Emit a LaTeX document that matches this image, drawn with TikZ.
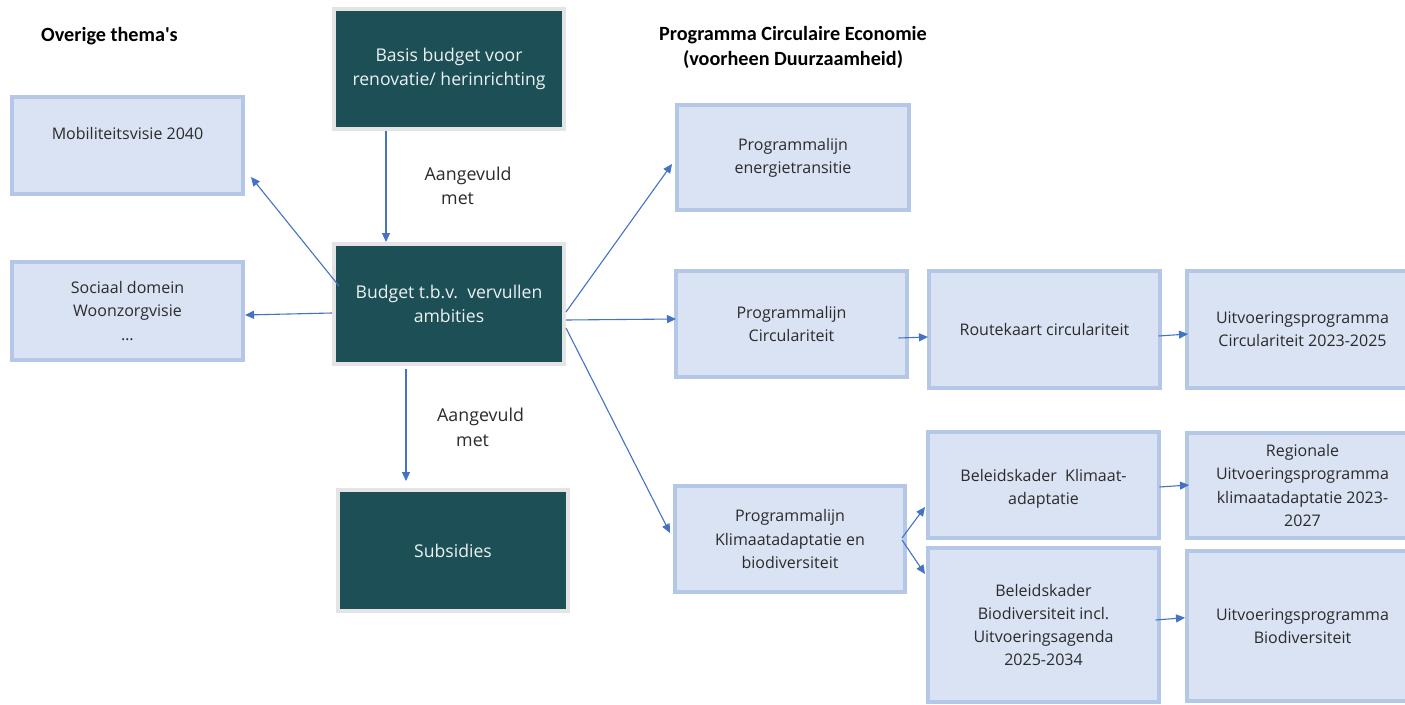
\documentclass[tikz,border=0pt]{standalone}
\usepackage{fontspec}
\setmainfont{Open Sans}
\newfontfamily\hdrfont{Carlito}
\usetikzlibrary{arrows.meta}
\definecolor{lfill}{HTML}{DAE3F3}
\definecolor{lline}{HTML}{B4C7E7}
\definecolor{dfill}{HTML}{1C5056}
\definecolor{dline}{HTML}{E4E4E4}
\definecolor{arr}{HTML}{4472C4}
\definecolor{txt}{HTML}{2B2B2B}
\definecolor{dtxt}{HTML}{EEF1F1}
\begin{document}
\begin{tikzpicture}[x=1pt,y=-1pt,
  lightbox/.style={draw=lline, fill=lfill, line width=4pt, inner sep=0pt, align=center, text=txt, font=\fontsize{16}{23.3}\selectfont},
  darkbox/.style={draw=dline, fill=dfill, line width=4pt, inner sep=0pt, align=center, text=dtxt, font=\fontsize{17.6}{24}\selectfont},
  conn/.style={draw=arr, line width=1.1pt, -{Triangle[length=9pt,width=8pt]}},
  lbl/.style={align=left, text=txt, font=\fontsize{17.8}{24.3}\selectfont, inner sep=0pt},
  hdr/.style={font=\hdrfont\bfseries\fontsize{20.2}{25}\selectfont, align=center, inner sep=0pt, text=black},
  plain/.style={inner sep=0pt, align=center, text=txt, font=\fontsize{16}{23.3}\selectfont}
]
\clip (0,0) rectangle (1405,704);
\fill[white] (0,0) rectangle (1405,704);

% headers
\node[hdr, anchor=base west] (h1) at (41,41) {Overige thema's};
\node[hdr, anchor=north] (h2) at (793,26) {Programma Circulaire Economie\\(voorheen Duurzaamheid)};

% left column
\node[lightbox, minimum width=231pt, minimum height=97pt] (mob) at (127.5,145.5) {};
\node[plain] (mobtxt) at ([yshift=12.5pt]mob.center) {Mobiliteitsvisie 2040};
\node[lightbox, minimum width=231pt, minimum height=98pt] (soc) at (127.5,311) {Sociaal domein\\Woonzorgvisie\\…};

% center column
\node[darkbox, minimum width=230pt, minimum height=120pt] (basis) at (449,69) {Basis budget voor\\renovatie/ herinrichting};
\node[darkbox, minimum width=230pt, minimum height=120pt] (budget) at (449,304) {Budget t.b.v.\ \ vervullen\\ambities};
\node[darkbox, minimum width=230pt, minimum height=121pt] (subs) at (453,550.5) {Subsidies};

% programme column
\node[lightbox, minimum width=232pt, minimum height=105pt] (ener) at (793,157.5) {Programmalijn\\energietransitie};
\node[lightbox, minimum width=231pt, minimum height=106pt] (circ) at (791.5,324) {Programmalijn\\Circulariteit};
\node[lightbox, minimum width=230pt, minimum height=106pt] (klim) at (790,539) {Programmalijn\\Klimaatadaptatie en\\biodiversiteit};

% third column
\node[lightbox, minimum width=231pt, minimum height=117pt] (route) at (1044.5,329.5) {Routekaart circulariteit};
\node[lightbox, minimum width=231pt, minimum height=106pt] (bk) at (1043.5,485) {};
\node[plain] (bktxt) at ([yshift=-3.5pt]bk.center) {Beleidskader\ \ Klimaat-\\adaptatie};
\node[lightbox, minimum width=231pt, minimum height=154pt] (bb) at (1043.5,625) {Beleidskader\\Biodiversiteit incl.\\Uitvoeringsagenda\\2025-2034};

% fourth column
\node[lightbox, minimum width=231pt, minimum height=117pt] (uc) at (1302.5,329.5) {Uitvoeringsprogramma\\Circulariteit 2023-2025};
\node[lightbox, minimum width=231pt, minimum height=105pt] (reg) at (1302.5,485.5) {Regionale\\Uitvoeringsprogramma\\klimaatadaptatie 2023-\\2027};
\node[lightbox, minimum width=231pt, minimum height=150pt] (ub) at (1302.5,626) {Uitvoeringsprogramma\\Biodiversiteit};

% labels
\node[lbl, anchor=north west] (lab1) at (424.5,166.5) {Aangevuld\\\hspace*{16.5pt}met};
\node[lbl, anchor=north west] (lab2) at (437,408) {Aangevuld\\\hspace*{19pt}met};

% connectors
\draw[conn] ([xshift=-63pt]basis.south) -- ([xshift=-63pt]budget.north);
\draw[conn] ([shift={(-43pt,-3pt)}]budget.south) -- ([shift={(-47pt,7pt)}]subs.north);
\draw[conn] ([shift={(7pt,18pt)}]budget.west) -- ([shift={(6pt,19pt)}]mob.south east);
\draw[conn] ([yshift=-9pt]budget.west) -- ([yshift=-4pt]soc.east);
\draw[conn] ([yshift=-8pt]budget.east) -- ([shift={(-3pt,-6.5pt)}]ener.west);
\draw[conn] ([yshift=-16pt]budget.east) -- ([shift={(2pt,5pt)}]circ.west);
\draw[conn] ([yshift=-24pt]budget.east) -- ([shift={(-3pt,6pt)}]klim.west);
\draw[conn] ([shift={(-10.5pt,-14pt)}]circ.east) -- ([shift={(1pt,-7.5pt)}]route.west);
\draw[conn] ([shift={(-3.5pt,-6.5pt)}]route.east) -- ([shift={(3pt,-4.5pt)}]uc.west);
\draw[conn] ([shift={(-5pt,1pt)}]klim.east) -- ([shift={(-1pt,-22pt)}]bk.west);
\draw[conn] ([shift={(-5pt,-1pt)}]klim.east) -- ([shift={(-1pt,51pt)}]bb.west);
\draw[conn] ([shift={(-1.5pt,-2pt)}]bk.east) -- ([shift={(4pt,0.5pt)}]reg.west);
\draw[conn] ([shift={(-5.4pt,5pt)}]bb.east) -- ([shift={(0pt,8.3pt)}]ub.west);
\end{tikzpicture}
\end{document}
